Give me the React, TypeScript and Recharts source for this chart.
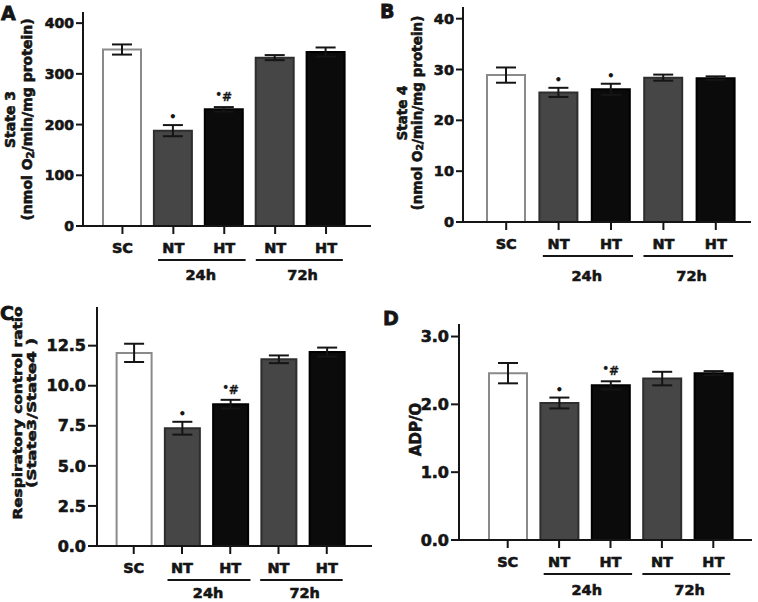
import React from 'react';
import { BarChart, Bar, XAxis, YAxis, ErrorBar, Cell, LabelList } from 'recharts';

// ---------- data ----------
const categories = ['SC', 'NT', 'HT', 'NT', 'HT'];
const groupNames = ['', '24h', '', '72h', ''];

const state3Values = [348, 188, 230, 332, 343];
const state3Errors = [10, 11, 4.5, 5, 9];
const state3Marks = ['', '*', '*#', '', ''];
const state3Ticks = [0, 100, 200, 300, 400];

const state4Values = [28.9, 25.5, 26.1, 28.4, 28.3];
const state4Errors = [1.5, 0.9, 1.1, 0.6, 0.35];
const state4Marks = ['', '*', '*', '', ''];
const state4Ticks = [0, 10, 20, 30, 40];

const rcrValues = [12.05, 7.35, 8.85, 11.65, 12.1];
const rcrErrors = [0.57, 0.4, 0.27, 0.24, 0.28];
const rcrMarks = ['', '*', '*#', '', ''];
const rcrTicks = [0, 2.5, 5, 7.5, 10, 12.5];

const adpoValues = [2.46, 2.02, 2.28, 2.38, 2.46];
const adpoErrors = [0.15, 0.08, 0.06, 0.1, 0.03];
const adpoMarks = ['', '*', '*#', '', ''];
const adpoTicks = [0, 1, 2, 3];

// ---------- styles ----------
const FONT = "'DejaVu Sans', Verdana, sans-serif";
const INK = '#151515';
const HEAVY = 0.6;
const barFills = ['#ffffff', '#464646', '#0b0b0b', '#464646', '#0b0b0b'];
const barStrokes = ['#8a8a8a', '#2e2e2e', '#000000', '#2e2e2e', '#000000'];

type TitleLine = { content: React.ReactNode; x: number; len?: number };
type Cfg = {
  key: string;
  left: number; top: number; width: number; height: number;
  mTop: number; mRight: number; yW: number; xH: number;
  padL: number; padR: number; step: number;
  max: number; ticks: number[]; fmt: (v: number) => string;
  values: number[]; errors: number[]; marks: string[];
  barSize: number; tickFont: number; yTickSize: number; groupDy: number;
  title: TitleLine[]; titleFont: number; titleShift: number;
};

const fmtInt = (v: number) => String(v);
const fmt1 = (v: number) => v.toFixed(1);

const sub2 = (before: string, after: string, fs: number) => [
  <tspan key="a">{before}</tspan>,
  <tspan key="b" dy={fs * 0.22} fontSize={fs * 0.72}>2</tspan>,
  <tspan key="c" dy={-fs * 0.22}>{after}</tspan>,
];

const panels: Cfg[] = [
  {
    key: 'A', left: 0, top: 0, width: 380, height: 300,
    mTop: 13, mRight: 10, yW: 83, xH: 74, padL: 14, padR: 18.5, step: 50.9,
    max: 420, ticks: state3Ticks, fmt: fmtInt,
    values: state3Values, errors: state3Errors, marks: state3Marks,
    barSize: 38, tickFont: 14, yTickSize: 7, groupDy: 49,
    title: [
      { content: 'State 3', x: 10 },
      { content: sub2('(nmol O', '/min/mg protein)', 14), x: 26.5 },
    ],
    titleFont: 14, titleShift: 0,
  },
  {
    key: 'B', left: 380, top: 0, width: 378, height: 300,
    mTop: 8, mRight: 8, yW: 83, xH: 78, padL: 17, padR: 8, step: 52.4,
    max: 42.1, ticks: state4Ticks, fmt: fmtInt,
    values: state4Values, errors: state4Errors, marks: state4Marks,
    barSize: 38, tickFont: 14.5, yTickSize: 7, groupDy: 54,
    title: [
      { content: 'State 4', x: 21.5 },
      { content: sub2('(nmol O', '/min/mg protein)', 13), x: 36.5 },
    ],
    titleFont: 13.5, titleShift: -2,
  },
  {
    key: 'C', left: 0, top: 300, width: 380, height: 302,
    mTop: 8, mRight: 9, yW: 97, xH: 56, padL: 12.6, padR: 20.1, step: 48.25,
    max: 14.85, ticks: rcrTicks, fmt: fmt1,
    values: rcrValues, errors: rcrErrors, marks: rcrMarks,
    barSize: 35, tickFont: 16, yTickSize: 9, groupDy: 47,
    title: [
      { content: 'Respiratory control ratio', x: 17.5, len: 213 },
      { content: '(State3/State4 )', x: 31, len: 150 },
    ],
    titleFont: 13, titleShift: -14,
  },
  {
    key: 'D', left: 380, top: 300, width: 378, height: 302,
    mTop: 25, mRight: 7, yW: 79, xH: 62, padL: 23, padR: 12, step: 51.5,
    max: 3.17, ticks: adpoTicks, fmt: fmt1,
    values: adpoValues, errors: adpoErrors, marks: adpoMarks,
    barSize: 38, tickFont: 16, yTickSize: 8, groupDy: 50,
    title: [{ content: 'ADP/O', x: 36 }],
    titleFont: 15, titleShift: -3,
  },
];

const GROUP_SPAN: Record<number, [number, number]> = { 1: [0.3, 0.42], 3: [0.38, 0.33] };

function CategoryTick(props: any) {
  const { x, y, payload, index, step, groupDy } = props;
  const i = payload && payload.index != null ? payload.index : index;
  const st = payload && payload.offset ? payload.offset * 2 : step;
  const axisY = y - 12;
  const label = categories[i];
  const group = groupNames[i];
  const span = GROUP_SPAN[i];
  const textProps = {
    textAnchor: 'middle' as const,
    fontFamily: FONT,
    fontWeight: 'bold' as const,
    fontSize: 14.5,
    fill: INK,
    stroke: INK,
    strokeWidth: HEAVY,
  };
  return (
    <g>
      <text x={x} y={axisY + 22} dy="0.36em" {...textProps}>
        {label}
      </text>
      {group && span ? (
        <g>
          <line x1={x - span[0] * st} x2={x + st + span[1] * st} y1={axisY + 34} y2={axisY + 34} stroke={INK} strokeWidth={2} />
          <text x={x + st / 2 + 2} y={axisY + groupDy} dy="0.36em" {...textProps}>
            {group}
          </text>
        </g>
      ) : null}
    </g>
  );
}

function makeMark(values: number[], errors: number[]) {
  return (props: any) => {
    const vb = props.viewBox && props.viewBox.height != null ? props.viewBox : props;
    const { x, y, width, height } = vb;
    const idx = props.index;
    const mark = props.value;
    if (!mark || idx == null) return null;
    const ppu = Math.abs(height) / values[idx];
    const top = Math.min(y, y + height) - errors[idx] * ppu;
    const cx = x + width / 2;
    if (mark === '*') {
      return (
        <text x={cx} y={top - 8} dy="0.36em" textAnchor="middle" fontFamily={FONT} fontWeight="bold" fontSize={12} fill={INK}>
          •
        </text>
      );
    }
    return (
      <text x={cx} y={top - 6} textAnchor="middle" fontFamily={FONT} fontWeight="bold" fill={INK} stroke={INK} strokeWidth={0.3}>
        <tspan fontSize={10} dy={-3}>•</tspan>
        <tspan fontSize={12} dy={3}>#</tspan>
      </text>
    );
  };
}

function makeTitle(cfg: Cfg) {
  return (props: any) => {
    const vb = props && props.viewBox ? props.viewBox : { x: 0, y: cfg.mTop, width: cfg.yW, height: cfg.height - cfg.mTop - cfg.xH };
    const cy = vb.y + vb.height / 2 + cfg.titleShift;
    return (
      <g>
        {cfg.title.map((line, k) => {
          const cx = line.x;
          const extra = line.len ? { textLength: line.len, lengthAdjust: 'spacingAndGlyphs' as const } : {};
          return (
            <text
              key={k}
              x={cx}
              y={cy}
              transform={`rotate(-90 ${cx} ${cy})`}
              textAnchor="middle"
              dominantBaseline="central"
              fontFamily={FONT}
              fontWeight="bold"
              fontSize={cfg.titleFont}
              fill={INK}
              stroke={INK}
              strokeWidth={HEAVY}
              {...extra}
            >
              {line.content}
            </text>
          );
        })}
      </g>
    );
  };
}

function Panel({ cfg }: { cfg: Cfg }) {
  const data = categories.map((c, i) => ({
    id: `${c}-${i}`,
    value: cfg.values[i],
    err: cfg.errors[i],
    mark: cfg.marks[i],
  }));
  const axisStroke = { stroke: INK, strokeWidth: 2, strokeLinecap: 'square' as const };
  return (
    <div style={{ position: 'absolute', left: cfg.left, top: cfg.top }}>
      <BarChart
        width={cfg.width}
        height={cfg.height}
        data={data}
        margin={{ top: cfg.mTop, right: cfg.mRight, left: 0, bottom: 0 }}
        barCategoryGap={0}
      >
        <XAxis
          dataKey="id"
          type="category"
          interval={0}
          height={cfg.xH}
          padding={{ left: cfg.padL, right: cfg.padR }}
          tickSize={8}
          tickMargin={4}
          axisLine={axisStroke}
          tickLine={{ stroke: INK, strokeWidth: 2 }}
          tick={(p: any) => <CategoryTick {...p} step={cfg.step} groupDy={cfg.groupDy} />}
        />
        <XAxis
          xAxisId="top"
          orientation="top"
          dataKey="id"
          height={0}
          padding={{ left: cfg.padL, right: cfg.padR }}
          tick={false}
          tickLine={false}
          axisLine={axisStroke}
        />
        <YAxis
          type="number"
          domain={[0, cfg.max]}
          ticks={cfg.ticks}
          interval={0}
          width={cfg.yW}
          tickSize={cfg.yTickSize}
          tickMargin={2}
          tickFormatter={cfg.fmt}
          axisLine={axisStroke}
          tickLine={{ stroke: INK, strokeWidth: 2 }}
          tick={{ fill: INK, stroke: INK, strokeWidth: HEAVY, fontSize: cfg.tickFont, fontFamily: FONT, fontWeight: 'bold' }}
          label={makeTitle(cfg)}
        />
        <YAxis
          yAxisId="right"
          orientation="right"
          type="number"
          domain={[0, cfg.max]}
          width={0}
          tick={false}
          tickLine={false}
          axisLine={axisStroke}
        />
        <Bar dataKey="value" barSize={cfg.barSize} strokeWidth={2} isAnimationActive={false}>
          {data.map((d, i) => (
            <Cell key={d.id} fill={barFills[i]} stroke={barStrokes[i]} />
          ))}
          <ErrorBar dataKey="err" width={10} stroke={INK} strokeWidth={2} direction="y" isAnimationActive={false} />
          <LabelList dataKey="mark" content={makeMark(cfg.values, cfg.errors)} />
        </Bar>
      </BarChart>
    </div>
  );
}

const letterPos = [
  { t: 'A', x: 1, y: 20 },
  { t: 'B', x: 380, y: 18 },
  { t: 'C', x: 0, y: 320 },
  { t: 'D', x: 383, y: 325 },
];

export default function App() {
  return (
    <div style={{ position: 'absolute', left: 0, top: 0, width: 758, height: 602, background: '#ffffff', overflow: 'hidden' }}>
      {panels.map((p) => (
        <Panel key={p.key} cfg={p} />
      ))}
      <svg width={758} height={602} style={{ position: 'absolute', left: 0, top: 0, pointerEvents: 'none' }}>
        {letterPos.map((l) => (
          <text key={l.t} x={l.x} y={l.y} fontFamily={FONT} fontWeight="bold" fontSize={19} fill={INK} stroke={INK} strokeWidth={0.8}>
            {l.t}
          </text>
        ))}
      </svg>
    </div>
  );
}
